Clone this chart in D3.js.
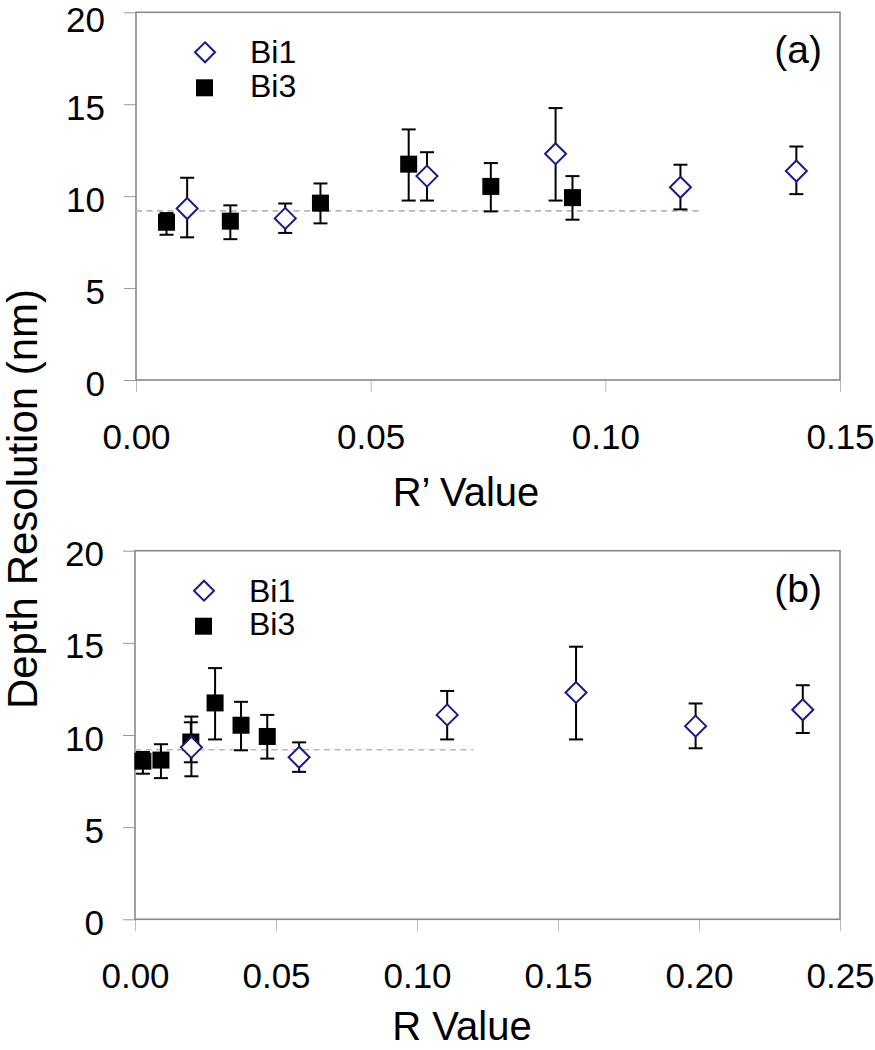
<!DOCTYPE html>
<html>
<head>
<meta charset="utf-8">
<script src="https://cdn.jsdelivr.net/npm/d3@7"></script>
<style>
  html, body { margin: 0; padding: 0; background: #fff; }
  svg { display: block; font-family: "Liberation Sans", Arial, sans-serif; }
</style>
</head>
<body>
<svg id="chart" width="875" height="1050"></svg>
<script>
// ---- Data ----
const seriesNames = ["Bi1", "Bi3"];
const yTicks = [0, 5, 10, 15, 20];
const xTicksA = [0, 0.05, 0.10, 0.15];
const xTicksB = [0, 0.05, 0.10, 0.15, 0.20, 0.25];

// Bi1 (open diamonds)
const bi1RPrime = [0.0109, 0.0318, 0.0620, 0.0894, 0.1160, 0.1407];
const bi1R      = [0.0200, 0.0582, 0.1107, 0.1564, 0.1988, 0.2368];
const bi1Depth  = [9.33, 8.79, 11.09, 12.31, 10.48, 11.37];
const bi1ErrUp  = [1.67, 0.81, 1.30, 2.48, 1.23, 1.33];
const bi1ErrDn  = [1.57, 0.79, 1.33, 2.55, 1.20, 1.26];

// Bi3 (filled squares)
const bi3RPrime = [0.0065, 0.0201, 0.0393, 0.0581, 0.0756, 0.0930];
const bi3R      = [0.0028, 0.0092, 0.0198, 0.0284, 0.0376, 0.0469];
const bi3Depth  = [8.58, 8.64, 9.62, 11.74, 10.53, 9.92];
const bi3ErrUp  = [0.50, 0.86, 1.07, 1.89, 1.27, 1.17];
const bi3ErrDn  = [0.68, 0.98, 1.10, 1.98, 1.36, 1.20];

// Dashed reference line
const refDepth = 9.2;
const refXStart = 0;
const refXEnd = 0.12;

const svg = d3.select("#chart");

const FRAME = "#888";
const DIAMOND = "#1a1a8c";

function diamondPath(cx, cy, r) {
  return `M${cx},${cy - r}L${cx + r},${cy}L${cx},${cy + r}L${cx - r},${cy}Z`;
}

function panel(opts) {
  const {top, bottom, left, right, xMax, xTicks, label, xTitle,
         bi1X, bi3X} = opts;
  const x = d3.scaleLinear().domain([0, xMax]).range([left, right]);
  const y = d3.scaleLinear().domain([0, 20]).range([bottom, top]);
  const g = svg.append("g");

  // y axis
  const ya = g.append("g").attr("transform", `translate(${left},0)`)
    .call(d3.axisLeft(y).tickValues(yTicks).tickSize(12).tickPadding(19)
      .tickFormat(d3.format("d")));
  ya.select(".domain").remove();
  ya.selectAll(".tick line").attr("stroke", "#999").attr("stroke-width", 1);
  ya.selectAll(".tick text").attr("font-size", 35).attr("fill", "#000")
    .attr("dy", "0.43em")
    .attr("y", (d) => (opts.nudgeTop && d === 20) ? 4.5 : 0);

  // x axis
  const xa = g.append("g").attr("transform", `translate(0,${bottom})`)
    .call(d3.axisBottom(x).tickValues(xTicks).tickSize(12).tickPadding(32)
      .tickFormat(d3.format(".2f")));
  xa.select(".domain").remove();
  xa.selectAll(".tick line").attr("stroke", "#bbb").attr("stroke-width", 1);
  xa.selectAll(".tick text").attr("font-size", 35).attr("fill", "#000")
    .attr("dy", "0.71em");

  // frame
  g.append("rect")
    .attr("x", left).attr("y", top)
    .attr("width", right - left).attr("height", bottom - top)
    .attr("fill", "none").attr("stroke", FRAME).attr("stroke-width", 1.6);

  // dashed reference line
  g.append("line")
    .attr("x1", x(refXStart)).attr("x2", x(refXEnd))
    .attr("y1", y(refDepth)).attr("y2", y(refDepth))
    .attr("stroke", "#b8b8b8").attr("stroke-width", 1.6)
    .attr("stroke-dasharray", "6,4.5");

  const cap = 7;
  function errorBars(xs, ys, up, dn) {
    const eg = g.append("g").attr("stroke", "#000").attr("stroke-width", 2);
    xs.forEach((xv, i) => {
      const px = x(xv), yt = y(ys[i] + up[i]), yb = y(ys[i] - dn[i]);
      eg.append("line").attr("x1", px).attr("x2", px).attr("y1", yt).attr("y2", yb);
      eg.append("line").attr("x1", px - cap).attr("x2", px + cap).attr("y1", yt).attr("y2", yt);
      eg.append("line").attr("x1", px - cap).attr("x2", px + cap).attr("y1", yb).attr("y2", yb);
    });
  }
  errorBars(bi3X, bi3Depth, bi3ErrUp, bi3ErrDn);
  errorBars(bi1X, bi1Depth, bi1ErrUp, bi1ErrDn);

  // Bi3 squares
  const sq = 17;
  g.append("g").selectAll("rect").data(bi3X).join("rect")
    .attr("x", (d) => x(d) - sq / 2)
    .attr("y", (d, i) => y(bi3Depth[i]) - sq / 2)
    .attr("width", sq).attr("height", sq).attr("fill", "#000");

  // Bi1 diamonds
  g.append("g").selectAll("path").data(bi1X).join("path")
    .attr("d", (d, i) => diamondPath(x(d), y(bi1Depth[i]), 10.5))
    .attr("fill", "#fff").attr("stroke", DIAMOND).attr("stroke-width", 2);

  // legend
  g.append("path").attr("d", diamondPath(left + 69, top + 40, 10))
    .attr("fill", "#fff").attr("stroke", DIAMOND).attr("stroke-width", 2);
  g.append("rect").attr("x", left + 68.5 - 8.5).attr("y", top + 75.5 - 8.5)
    .attr("width", 17).attr("height", 17).attr("fill", "#000");
  g.append("text").attr("x", left + 114).attr("y", top + 51)
    .attr("font-size", 32).text(seriesNames[0]);
  g.append("text").attr("x", left + 114).attr("y", top + 84.5)
    .attr("font-size", 32).text(seriesNames[1]);

  // panel label
  g.append("text").attr("x", right - 18).attr("y", top + 51)
    .attr("text-anchor", "end").attr("font-size", 39).text(label);

  // x title
  g.append("text").attr("x", opts.titleX).attr("y", opts.titleY)
    .attr("text-anchor", "middle").attr("font-size", 40).text(xTitle);
}

panel({top: 12.3, bottom: 380, left: 136, right: 840, xMax: 0.15,
  xTicks: xTicksA, label: "(a)", xTitle: "R\u2019 Value", titleX: 466, titleY: 506,
  bi1X: bi1RPrime, bi3X: bi3RPrime, nudgeTop: true});
panel({top: 550.7, bottom: 919.3, left: 135, right: 840, xMax: 0.25,
  xTicks: xTicksB, label: "(b)", xTitle: "R Value", titleX: 462, titleY: 1040,
  bi1X: bi1R, bi3X: bi3R, nudgeTop: false});

// shared y title
svg.append("text")
  .attr("transform", "translate(37,499) rotate(-90)")
  .attr("text-anchor", "middle").attr("font-size", 42)
  .text("Depth Resolution (nm)");
</script>
</body>
</html>
